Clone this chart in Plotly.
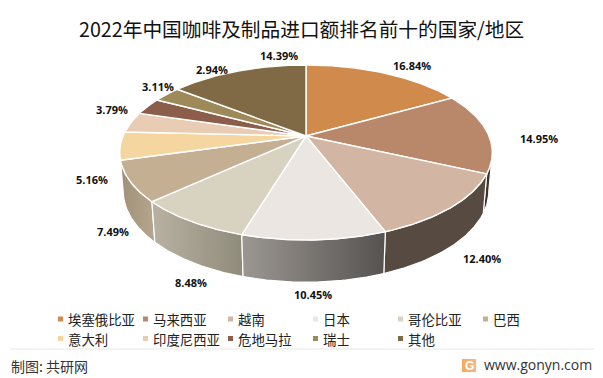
import numpy as np
import plotly.graph_objects as go

TITLE = "2022年中国咖啡及制品进口额排名前十的国家/地区"
CATEGORIES = ["埃塞俄比亚", "马来西亚", "越南", "日本", "哥伦比亚", "巴西",
              "意大利", "印度尼西亚", "危地马拉", "瑞士", "其他"]
SHARES = [16.84, 14.95, 12.40, 10.45, 8.48, 7.49, 5.16, 3.79, 3.11, 2.94, 14.39]
TOP_COLORS = ["#d08b4c", "#b9886a", "#d2b6a3", "#ebe6e2", "#d8d3c0", "#c4af93",
              "#f5d6a0", "#e9ccb4", "#8a5e4a", "#9e8a58", "#806a46"]
LEGEND_COLORS = TOP_COLORS
SIDE_COLORS = {1: ("#3f3227", "#3f3227"), 2: ("#574b41", "#574b41"),
               3: ("#9c9792", "#555250"), 4: ("#b9b2a3", "#8f8b7a"),
               5: ("#a09077", "#b5a68f"), 6: ("#a09077", "#a09077")}
LABEL_SHIFT = [(26.5, -8), (52, 6), (31, 51), (-1, 55), (0, 61), (-17, 50),
               (-28, 34), (-19, -13), (10, -20), (45, -25), (41, -16)]

W, H = 603, 378
CX, CY = 306, 136
A, B, K = 183, 84.4, 0.1887
FONT = "Noto Sans CJK SC"


def project(theta):
    """Pie angle (degrees clockwise from 12 o'clock) -> perspective rim point."""
    t = np.radians(theta)
    d = 1 + K * np.cos(t)
    return CX + A * np.sin(t) / d, CY - B * np.cos(t) / d


def lower(x, y):
    return CX + (x - CX) * 0.981, y + 38 + 0.04 * (y - CY)


def arc(a0, a1):
    return np.linspace(a0, a1, max(int(abs(a1 - a0) * 2), 2) + 1)


edges = np.concatenate([[0], np.cumsum(SHARES)]) / sum(SHARES) * 360
SIL0, SIL1 = 100.9, 259.1

fig = go.Figure()

# side walls
for i in sorted(SIDE_COLORS, key=lambda j: -abs((edges[j] + edges[j + 1]) / 2 - 180)):
    a0, a1 = max(edges[i], SIL0), min(edges[i + 1], SIL1)
    if a1 <= a0:
        continue
    x, y = project(arc(a0, a1))
    xb, yb = lower(x, y)
    px = np.concatenate([x, xb[::-1], x[:1]])
    py = np.concatenate([y, yb[::-1], y[:1]])
    c0, c1 = SIDE_COLORS[i]
    fig.add_trace(go.Scatter(
        x=px, y=py, mode="lines", fill="toself",
        line=dict(color="#ffffff", width=1.2),
        fillgradient=dict(type="horizontal", colorscale=[[0, c0], [1, c1]]),
        hoverinfo="skip", showlegend=False))

# top faces
for i, name in enumerate(CATEGORIES):
    x, y = project(arc(edges[i], edges[i + 1]))
    fig.add_trace(go.Scatter(
        x=np.concatenate([[CX], x, [CX]]), y=np.concatenate([[CY], y, [CY]]),
        mode="lines", fill="toself", fillcolor=TOP_COLORS[i],
        line=dict(color="#ffffff", width=1.4),
        name=name, hoverinfo="name", showlegend=False))

annotations = []
# percentage labels
for i, share in enumerate(SHARES):
    mx, my = project((edges[i] + edges[i + 1]) / 2)
    dx, dy = LABEL_SHIFT[i]
    annotations.append(dict(
        x=float(mx), y=float(my), xshift=dx, yshift=-dy, text=f"<b>{share:.2f}%</b>",
        showarrow=False, font=dict(family="Open Sans", size=11, color="#111111")))

# legend grid
LEG_X0, LEG_DX, LEG_Y0, LEG_DY = 60.5, 85, 319, 19.5
lx = [LEG_X0 + LEG_DX * (i % 6) for i in range(len(CATEGORIES))]
ly = [LEG_Y0 + LEG_DY * (i // 6) for i in range(len(CATEGORIES))]
fig.add_trace(go.Scatter(
    x=lx, y=ly, mode="markers",
    marker=dict(symbol="square", size=5, color=LEGEND_COLORS),
    hoverinfo="skip", showlegend=False))
for px, py, name in zip(lx, ly, CATEGORIES):
    annotations.append(dict(
        x=px + 8, y=py, text=name, xanchor="left", showarrow=False, xshift=-3,
        font=dict(family=FONT, size=13.4, color="#222222")))

# logo tile
fig.add_trace(go.Scatter(
    x=[462, 476, 476, 462, 462], y=[359, 359, 372, 372, 359], mode="lines", fill="toself",
    line=dict(width=0), hoverinfo="skip", showlegend=False,
    fillgradient=dict(type="horizontal", colorscale=[[0, "#f9a95a"], [1, "#fbb486"]])))

annotations += [
    dict(x=301.5, y=28.5, text=TITLE, showarrow=False,
         font=dict(family=FONT, size=19.7, color="#111111")),
    dict(x=11.5, y=366, text="制图: 共研网", xanchor="left", showarrow=False, xshift=-3,
         font=dict(family=FONT, size=14, color="#333333")),
    dict(x=485, y=364, text="www.gonyn.com", xanchor="left", showarrow=False, xshift=-3,
         font=dict(family="Open Sans", size=14, color="#333333")),
    dict(x=469, y=365.5, text="<b>G</b>", showarrow=False,
         font=dict(family="Liberation Sans", size=12, color="#ffffff")),
]

shapes = [
    dict(type="line", x0=11, x1=594, y0=349, y1=349, line=dict(color="#e8e8e8", width=1.2)),
]

fig.update_layout(
    width=W, height=H, margin=dict(l=0, r=0, t=0, b=0),
    paper_bgcolor="#ffffff", plot_bgcolor="#ffffff",
    showlegend=False, annotations=annotations, shapes=shapes,
    xaxis=dict(range=[0, W], visible=False, fixedrange=True),
    yaxis=dict(range=[H, 0], visible=False, fixedrange=True),
)
fig.write_html("out.html", config=dict(displayModeBar=False),
               post_script="document.body.style.margin='0';document.documentElement.style.overflow='hidden';")
